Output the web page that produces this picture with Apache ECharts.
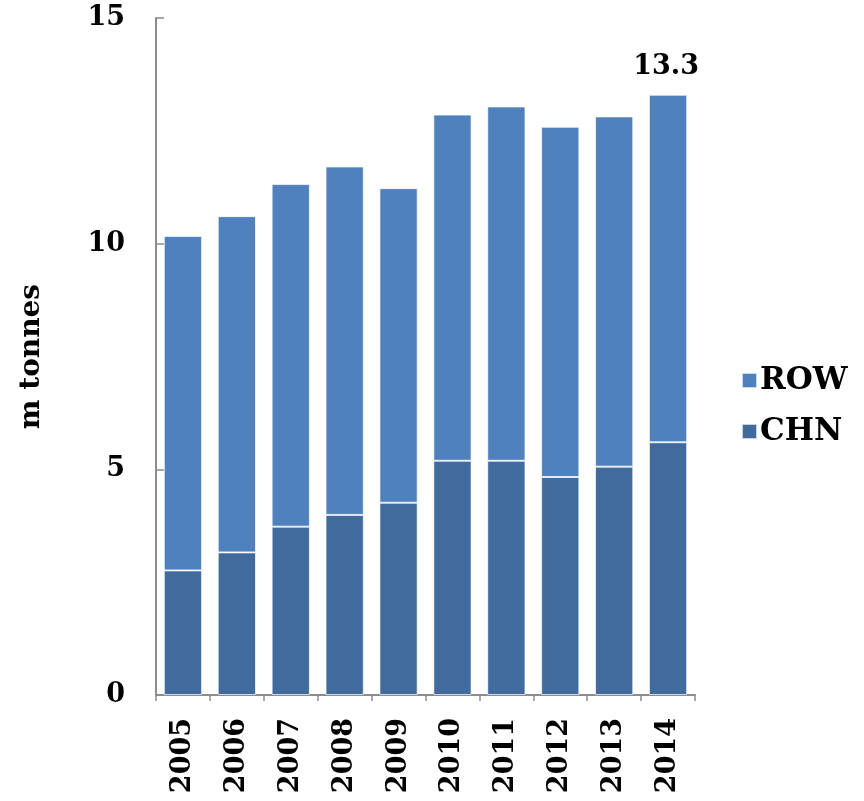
<!DOCTYPE html>
<html>
<head>
<meta charset="utf-8">
<script src="https://cdn.jsdelivr.net/npm/echarts@6/dist/echarts.min.js"></script>
<style>
  html, body { margin: 0; padding: 0; background: #fff; }
  #chart { width: 864px; height: 801px; }
</style>
</head>
<body>
<div id="chart"></div>
<script>
// Production by year, million tonnes
const years = ['2005', '2006', '2007', '2008', '2009', '2010', '2011', '2012', '2013', '2014'];
const chn = [2.76, 3.16, 3.73, 3.99, 4.26, 5.19, 5.19, 4.83, 5.06, 5.6];
const row = [7.41, 7.45, 7.59, 7.72, 6.97, 7.67, 7.85, 7.76, 7.76, 7.7];
const yTicks = [0, 5, 10, 15];

const FONT = '"DejaVu Serif", "Liberation Serif", serif';
const last = years.length - 1;
const totalLast = chn[last] + row[last];

const chart = echarts.init(document.getElementById('chart'));
chart.setOption({
  animation: false,
  textStyle: { fontFamily: FONT },
  grid: { left: 156, right: 169, top: 18, bottom: 106 },
  legend: {
    data: ['ROW', 'CHN'],
    orient: 'vertical',
    left: 736,
    top: 360,
    itemGap: 20,
    itemWidth: 15,
    itemHeight: 15,
    icon: 'rect',
    textStyle: { fontFamily: FONT, fontWeight: 'bold', fontSize: 31, color: '#000', padding: [0, 0, 0, -2] }
  },
  xAxis: {
    type: 'category',
    data: years,
    axisLine: { lineStyle: { color: '#8c8c8c', width: 2 } },
    axisTick: { show: true, length: 6, lineStyle: { color: '#8c8c8c', width: 1.5 } },
    axisLabel: {
      rotate: 90,
      margin: 23,
      fontFamily: FONT,
      fontWeight: 'bold',
      fontSize: 27,
      color: '#000'
    }
  },
  yAxis: {
    type: 'value',
    min: 0,
    max: 15,
    interval: 5,
    name: 'm tonnes',
    nameLocation: 'middle',
    nameGap: 110,
    nameRotate: 90,
    nameTextStyle: { fontFamily: FONT, fontWeight: 'bold', fontSize: 28, color: '#000' },
    axisLine: { show: true, lineStyle: { color: '#8c8c8c', width: 2 } },
    axisTick: { show: true, inside: true, length: 8, lineStyle: { color: '#8c8c8c', width: 1.5 } },
    splitLine: { show: false },
    axisLabel: {
      margin: 31,
      fontFamily: FONT,
      fontWeight: 'bold',
      fontSize: 27,
      color: '#000',
      formatter: v => yTicks.includes(v) ? String(v) : ''
    }
  },
  series: [
    {
      name: 'CHN',
      type: 'bar',
      stack: 'total',
      barCategoryGap: '29%',
      data: chn,
      itemStyle: { color: '#416b9d', borderColor: 'rgba(255,255,255,0.7)', borderWidth: 1 }
    },
    {
      name: 'ROW',
      type: 'bar',
      stack: 'total',
      barCategoryGap: '29%',
      data: row.map((v, i) => i === last ? {
        value: v,
        label: {
          show: true,
          position: 'top',
          distance: 14,
          offset: [-2, 0],
          formatter: () => totalLast.toFixed(1),
          fontFamily: FONT,
          fontWeight: 'bold',
          fontSize: 27,
          color: '#000'
        }
      } : v),
      itemStyle: { color: '#4f81bd', borderColor: 'rgba(255,255,255,0.7)', borderWidth: 1 }
    }
  ]
});
</script>
</body>
</html>
